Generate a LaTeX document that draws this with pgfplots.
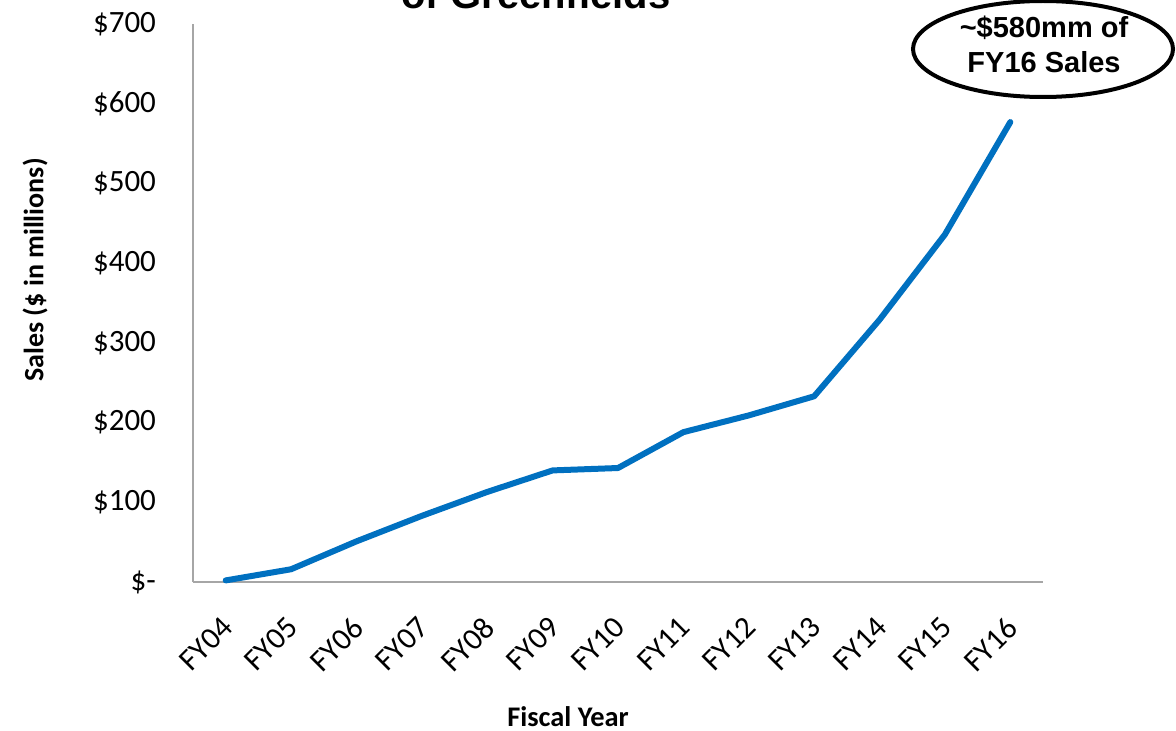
\documentclass[border=0pt]{standalone}
\usepackage{pgfplots}
\pgfplotsset{compat=1.18}
\usepackage{fontspec}
\setmainfont{Carlito}
\newfontfamily\arialfont{Liberation Sans}
\definecolor{salesblue}{HTML}{0070C0}
\definecolor{axisgray}{HTML}{A6A6A6}

\begin{document}
\begin{tikzpicture}
\useasboundingbox (0,0) rectangle (588pt,365pt);
\clip (0,0) rectangle (588pt,365pt);

% title, partly cut by the top edge
\node[anchor=base, font=\arialfont\bfseries\fontsize{20}{24}\selectfont]
  at (268pt,360.5pt) {of Greenfields};

\begin{axis}[
  at={(96.5pt,74pt)}, anchor=south west,
  scale only axis, width=425pt, height=279pt,
  xmin=-0.5, xmax=12.5, ymin=0, ymax=700,
  axis lines=left,
  axis line style={axisgray, line width=1pt, -},
  major tick length=0pt,
  xtick={0,...,12},
  xticklabels={FY04,FY05,FY06,FY07,FY08,FY09,FY10,FY11,FY12,FY13,FY14,FY15,FY16},
  ytick={0,100,...,700},
  yticklabels={\$-,\$100,\$200,\$300,\$400,\$500,\$600,\$700},
  ticklabel style={font=\fontsize{15.5}{18}\selectfont},
  yticklabel style={anchor=east, xshift=-15pt},
  xticklabel style={xshift=-2.7pt, yshift=-11.7pt, rotate=45, anchor=north east},
  clip=false,
]
\addplot[salesblue, line width=3pt, line join=round, line cap=round] coordinates {
  (0,2) (1,16) (2,51) (3,83) (4,113) (5,140) (6,143)
  (7,188) (8,209) (9,233) (10,329) (11,436) (12,577)
};
\end{axis}

% axis titles
\node[font=\bfseries\fontsize{14.2}{16}\selectfont] at (284pt,6.5pt) {Fiscal Year};
\node[rotate=90, font=\bfseries\fontsize{14}{16}\selectfont] at (17.5pt,230pt) {Sales (\$ in millions)};

% callout for the last year
\draw[black, line width=2pt, fill=white] (521.5pt,340.5pt) ellipse (65pt and 24pt);
\node[anchor=base, font=\arialfont\bfseries\fontsize{14.5}{17}\selectfont] at (522pt,346pt) {\textasciitilde\$580mm of};
\node[anchor=base, font=\arialfont\bfseries\fontsize{14.5}{17}\selectfont] at (522pt,328.5pt) {FY16 Sales};
\end{tikzpicture}
\end{document}
